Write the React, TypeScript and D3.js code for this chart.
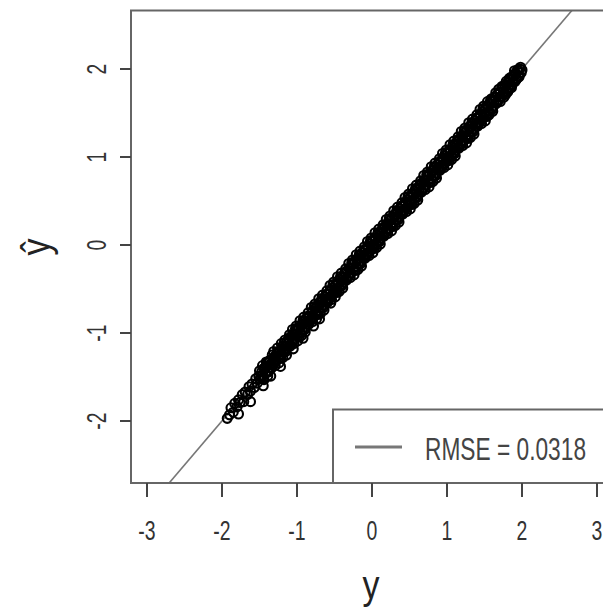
import React from "react";
import * as d3 from "d3";

// observed (true) values y — first batch
const yTrue: number[] = [
  -1.93,-1.90,-1.88,-1.85,-1.83,-1.80,-1.78,-1.76,-1.73,-1.71,
  -1.69,-1.66,-1.64,-1.62,-1.60,-1.57,-1.55,-1.53,-1.51,-1.49,
  -1.78,-1.62,-1.45,-1.22,-1.05,-0.92,-0.78,-0.70,-1.35,-0.55,
  -1.47,-1.46,-1.44,-1.42,-1.41,-1.39,-1.37,-1.36,-1.34,-1.32,
  -1.31,-1.29,-1.28,-1.26,-1.24,-1.23,-1.21,-1.19,-1.18,-1.16,
  -1.14,-1.13,-1.11,-1.09,-1.08,-1.06,-1.04,-1.03,-1.01,-0.99,
  -0.98,-0.96,-0.94,-0.93,-0.91,-0.89,-0.88,-0.86,-0.84,-0.83,
  -0.81,-0.79,-0.78,-0.76,-0.74,-0.73,-0.71,-0.69,-0.68,-0.66,
  -0.64,-0.63,-0.61,-0.59,-0.58,-0.56,-0.54,-0.53,-0.51,-0.49,
  -0.48,-0.46,-0.44,-0.43,-0.41,-0.39,-0.38,-0.36,-0.34,-0.33,
  -0.31,-0.29,-0.28,-0.26,-0.24,-0.23,-0.21,-0.19,-0.18,-0.16,
  -0.14,-0.13,-0.11,-0.09,-0.08,-0.06,-0.04,-0.03,-0.01,0.01,
  0.02,0.04,0.06,0.07,0.09,0.11,0.12,0.14,0.16,0.17,
  0.19,0.21,0.22,0.24,0.26,0.27,0.29,0.31,0.32,0.34,
  0.36,0.37,0.39,0.41,0.42,0.44,0.46,0.47,0.49,0.51,
  0.52,0.54,0.56,0.57,0.59,0.61,0.62,0.64,0.66,0.67,
  0.69,0.71,0.72,0.74,0.76,0.77,0.79,0.81,0.82,0.84,
  0.86,0.87,0.89,0.91,0.92,0.94,0.96,0.97,0.99,1.01,
  1.02,1.04,1.06,1.07,1.09,1.11,1.12,1.14,1.16,1.17,
  1.19,1.21,1.22,1.24,1.26,1.27,1.29,1.31,1.32,1.34,
  1.36,1.37,1.39,1.41,1.42,1.44,1.46,1.47,1.49,1.51,
  1.52,1.54,1.56,1.57,1.59,1.61,1.62,1.64,1.66,1.67,
  1.69,1.71,1.72,1.74,1.76,1.77,1.79,1.81,1.82,1.84,
  1.86,1.87,1.89,1.91,1.92,1.94,1.96,1.97,1.99,2.00,
];

// predicted values y-hat — first batch
const yPred: number[] = [
  -1.97,-1.93,-1.85,-1.90,-1.80,-1.84,-1.76,-1.79,-1.70,-1.78,
  -1.67,-1.70,-1.61,-1.66,-1.58,-1.62,-1.52,-1.57,-1.49,-1.52,
  -1.92,-1.78,-1.60,-1.38,-1.18,-1.06,-0.92,-0.84,-1.49,-0.66,
  -1.44,-1.49,-1.40,-1.46,-1.38,-1.43,-1.33,-1.39,-1.36,-1.29,
  -1.34,-1.26,-1.32,-1.22,-1.28,-1.20,-1.25,-1.15,-1.22,-1.19,
  -1.10,-1.17,-1.08,-1.13,-1.04,-1.10,-1.01,-1.07,-0.97,-1.03,
  -0.94,-1.00,-0.91,-0.97,-0.87,-0.93,-0.84,-0.90,-0.81,-0.86,
  -0.84,-0.75,-0.82,-0.72,-0.78,-0.70,-0.75,-0.65,-0.72,-0.63,
  -0.68,-0.59,-0.65,-0.56,-0.62,-0.52,-0.58,-0.49,-0.55,-0.46,
  -0.52,-0.43,-0.48,-0.39,-0.45,-0.36,-0.42,-0.32,-0.38,-0.29,
  -0.35,-0.26,-0.32,-0.22,-0.28,-0.19,-0.25,-0.16,-0.22,-0.12,
  -0.18,-0.09,-0.15,-0.05,-0.12,-0.02,-0.08,0.01,-0.05,0.05,
  -0.02,0.08,0.02,0.11,0.05,0.15,0.08,0.18,0.12,0.21,
  0.15,0.24,0.18,0.28,0.22,0.31,0.25,0.35,0.28,0.38,
  0.32,0.41,0.35,0.45,0.38,0.48,0.42,0.51,0.45,0.55,
  0.48,0.58,0.52,0.61,0.55,0.65,0.58,0.68,0.62,0.71,
  0.65,0.74,0.68,0.78,0.72,0.81,0.75,0.85,0.78,0.88,
  0.82,0.91,0.85,0.95,0.88,0.98,0.92,1.01,0.95,1.05,
  0.98,1.08,1.02,1.11,1.05,1.15,1.08,1.18,1.12,1.21,
  1.15,1.24,1.18,1.28,1.22,1.31,1.25,1.35,1.28,1.38,
  1.32,1.41,1.35,1.45,1.38,1.48,1.42,1.51,1.45,1.55,
  1.48,1.58,1.52,1.61,1.55,1.65,1.58,1.68,1.62,1.71,
  1.65,1.74,1.68,1.78,1.72,1.81,1.75,1.85,1.78,1.88,
  1.82,1.91,1.85,1.95,1.88,1.98,1.92,2.00,1.96,1.99,
];

// observed (true) values y — second batch
const yTrue2: number[] = [
  -1.50,-1.48,-1.45,-1.43,-1.40,-1.38,-1.35,-1.33,-1.30,-1.27,
  -1.25,-1.22,-1.20,-1.17,-1.15,-1.12,-1.10,-1.07,-1.05,-1.02,
  -1.00,-0.97,-0.95,-0.92,-0.90,-0.87,-0.85,-0.82,-0.80,-0.77,
  -0.75,-0.72,-0.70,-0.67,-0.65,-0.62,-0.60,-0.57,-0.55,-0.52,
  -0.50,-0.47,-0.45,-0.42,-0.40,-0.37,-0.35,-0.32,-0.30,-0.27,
  -0.25,-0.22,-0.20,-0.17,-0.15,-0.12,-0.10,-0.07,-0.05,-0.02,
  0.00,0.03,0.05,0.08,0.10,0.13,0.15,0.18,0.20,0.23,
  0.25,0.28,0.30,0.33,0.35,0.38,0.40,0.43,0.45,0.48,
  0.50,0.53,0.55,0.58,0.60,0.63,0.65,0.68,0.70,0.73,
  0.75,0.78,0.80,0.83,0.85,0.88,0.90,0.93,0.95,0.98,
  1.00,1.03,1.05,1.08,1.10,1.13,1.15,1.18,1.20,1.23,
  1.25,1.28,1.30,1.33,1.35,1.38,1.40,1.43,1.45,1.48,
  1.50,1.53,1.55,1.58,1.60,1.63,1.65,1.68,1.70,1.73,
  1.75,1.78,1.80,1.83,1.85,1.88,1.90,1.93,1.95,1.98,
];

// predicted values y-hat — second batch
const yPred2: number[] = [
  -1.43,-1.49,-1.52,-1.41,-1.34,-1.44,-1.35,-1.25,-1.34,-1.24,
  -1.26,-1.29,-1.18,-1.11,-1.21,-1.12,-1.02,-1.11,-1.02,-0.95,
  -1.01,-1.04,-0.93,-0.86,-0.96,-0.87,-0.77,-0.86,-0.77,-0.70,
  -0.76,-0.79,-0.68,-0.61,-0.71,-0.62,-0.52,-0.61,-0.52,-0.45,
  -0.51,-0.54,-0.43,-0.36,-0.46,-0.37,-0.27,-0.36,-0.27,-0.20,
  -0.26,-0.29,-0.18,-0.11,-0.21,-0.12,-0.02,-0.11,-0.02,0.05,
  -0.01,-0.04,0.07,0.14,0.04,0.13,0.23,0.14,0.23,0.30,
  0.24,0.21,0.32,0.39,0.29,0.38,0.48,0.39,0.48,0.55,
  0.49,0.46,0.57,0.64,0.54,0.63,0.73,0.64,0.73,0.80,
  0.74,0.71,0.82,0.89,0.79,0.88,0.98,0.89,0.98,1.05,
  0.99,0.96,1.07,1.14,1.04,1.13,1.23,1.14,1.23,1.30,
  1.24,1.21,1.32,1.39,1.29,1.38,1.48,1.39,1.48,1.55,
  1.49,1.46,1.57,1.64,1.54,1.63,1.73,1.64,1.73,1.80,
  1.74,1.71,1.82,1.89,1.79,1.88,1.98,1.89,1.98,2.02,
];

// observed (true) values y — third batch
const yTrue3: number[] = [
  -1.46,-1.44,-1.41,-1.39,-1.36,-1.34,-1.31,-1.29,-1.26,-1.24,
  -1.21,-1.19,-1.16,-1.14,-1.11,-1.09,-1.06,-1.04,-1.01,-0.99,
  -0.96,-0.94,-0.91,-0.89,-0.86,-0.84,-0.81,-0.79,-0.76,-0.74,
  -0.71,-0.69,-0.66,-0.64,-0.61,-0.59,-0.56,-0.54,-0.51,-0.49,
  -0.46,-0.44,-0.41,-0.39,-0.36,-0.34,-0.31,-0.29,-0.26,-0.24,
  -0.21,-0.19,-0.16,-0.14,-0.11,-0.09,-0.06,-0.04,-0.01,0.01,
  0.04,0.06,0.09,0.11,0.14,0.16,0.19,0.21,0.24,0.26,
  0.29,0.31,0.34,0.36,0.39,0.41,0.44,0.46,0.49,0.51,
  0.54,0.56,0.59,0.61,0.64,0.66,0.69,0.71,0.74,0.76,
  0.79,0.81,0.84,0.86,0.89,0.91,0.94,0.96,0.99,1.01,
  1.04,1.06,1.09,1.11,1.14,1.16,1.19,1.21,1.24,1.26,
  1.29,1.31,1.34,1.36,1.39,1.41,1.44,1.46,1.49,1.51,
  1.54,1.56,1.59,1.61,1.64,1.66,1.69,1.71,1.74,1.76,
  1.79,1.81,1.84,1.86,1.89,1.91,1.94,1.96,
];

// predicted values y-hat — third batch
const yPred3: number[] = [
  -1.37,-1.53,-1.33,-1.49,-1.31,-1.40,-1.21,-1.37,-1.17,-1.34,
  -1.12,-1.28,-1.08,-1.25,-1.06,-1.15,-0.96,-1.12,-0.92,-1.09,
  -0.86,-1.03,-0.82,-0.99,-0.81,-0.90,-0.71,-0.87,-0.67,-0.84,
  -0.61,-0.78,-0.57,-0.74,-0.56,-0.65,-0.46,-0.62,-0.42,-0.59,
  -0.36,-0.53,-0.32,-0.49,-0.31,-0.40,-0.21,-0.37,-0.17,-0.34,
  -0.11,-0.28,-0.07,-0.24,-0.06,-0.15,0.04,-0.12,0.08,-0.09,
  0.14,-0.03,0.18,0.01,0.19,0.10,0.29,0.13,0.33,0.16,
  0.39,0.22,0.43,0.26,0.44,0.35,0.54,0.38,0.58,0.41,
  0.64,0.47,0.68,0.51,0.69,0.60,0.79,0.63,0.83,0.66,
  0.89,0.72,0.93,0.76,0.94,0.85,1.04,0.88,1.08,0.91,
  1.14,0.97,1.18,1.01,1.19,1.10,1.29,1.13,1.33,1.16,
  1.39,1.22,1.43,1.26,1.44,1.35,1.54,1.38,1.58,1.41,
  1.63,1.48,1.66,1.52,1.68,1.61,1.77,1.63,1.80,1.68,
  1.86,1.74,1.90,1.79,1.93,1.86,1.99,1.91,
];

const xTickValues: number[] = [-3, -2, -1, 0, 1, 2, 3];
const yTickValues: number[] = [-2, -1, 0, 1, 2];
const legendLabel = "RMSE = 0.0318";
const xAxisTitle = "y";
const yAxisTitle = "\u0177";

const W = 603;
const H = 610;
const FONT = "'Liberation Sans', Arial, sans-serif";

export default function App() {
  const x = d3.scaleLinear().domain([-3, 3]).range([147, 597]);
  const y = d3.scaleLinear().domain([-2, 2]).range([421, 69]);

  const left = 131;
  const top = 10.5;
  const bottom = 483;
  const right = 640;

  const idLine = d3.line<number>().x((d) => x(d)).y((d) => y(d));
  const lineD = idLine([-4, 4]) || "";

  const pts: [number, number][] = [
    ...yTrue.map((v, i) => [v, yPred[i]] as [number, number]),
    ...yTrue2.map((v, i) => [v, yPred2[i]] as [number, number]),
    ...yTrue3.map((v, i) => [v, yPred3[i]] as [number, number]),
  ];

  return (
    <svg
      width={W}
      height={H}
      style={{ position: "absolute", left: 0, top: 0, display: "block", background: "#fff" }}
    >
      <defs>
        <clipPath id="plotClip">
          <rect x={left} y={top} width={right - left} height={bottom - top} />
        </clipPath>
      </defs>

      {/* points */}
      <g clipPath="url(#plotClip)">
        <path d={lineD} stroke="#777" strokeWidth={1.6} fill="none" />
        {pts.map((p, i) => (
          <circle
            key={i}
            cx={x(p[0])}
            cy={y(p[1])}
            r={4.5}
            fill="none"
            stroke="#000"
            strokeWidth={2.1}
          />
        ))}
      </g>

      {/* frame */}
      <rect
        x={left}
        y={top}
        width={right - left}
        height={bottom - top}
        fill="none"
        stroke="#666"
        strokeWidth={2}
      />

      {/* legend */}
      <rect x={333} y={409.5} width={300} height={bottom - 409.5} fill="#fff" stroke="#666" strokeWidth={2} />
      <line x1={355} x2={402} y1={447} y2={447} stroke="#777" strokeWidth={3} />
      <text
        transform={`translate(425,460) scale(0.71,1)`}
        fontFamily={FONT}
        fontSize={32}
        fill="#444"
      >
        {legendLabel}
      </text>

      {/* x axis ticks */}
      {xTickValues.map((t) => (
        <g key={"x" + t}>
          <line x1={x(t)} x2={x(t)} y1={bottom} y2={497} stroke="#444" strokeWidth={2} />
          <text
            transform={`translate(${x(t)},540) scale(0.72,1)`}
            textAnchor="middle"
            fontFamily={FONT}
            fontSize={27}
            fill="#333"
          >
            {String(t)}
          </text>
        </g>
      ))}

      {/* y axis ticks */}
      {yTickValues.map((t) => (
        <g key={"y" + t}>
          <line x1={120} x2={left} y1={y(t)} y2={y(t)} stroke="#444" strokeWidth={2} />
          <text
            transform={`translate(106,${y(t)}) rotate(-90) scale(0.72,1)`}
            textAnchor="middle"
            fontFamily={FONT}
            fontSize={27}
            fill="#333"
          >
            {String(t)}
          </text>
        </g>
      ))}

      {/* axis titles */}
      <text
        transform={`translate(371,599) scale(0.85,1)`}
        textAnchor="middle"
        fontFamily={FONT}
        fontSize={40}
        fill="#222"
      >
        {xAxisTitle}
      </text>
      <text
        transform={`translate(50,247) rotate(-90) scale(0.85,1)`}
        textAnchor="middle"
        fontFamily={FONT}
        fontSize={40}
        fill="#222"
      >
        {yAxisTitle}
      </text>
    </svg>
  );
}
